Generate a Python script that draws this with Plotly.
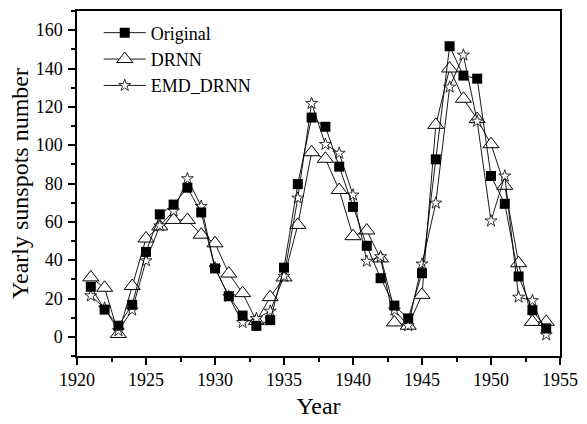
import plotly.graph_objects as go

years = [1921, 1922, 1923, 1924, 1925, 1926, 1927, 1928, 1929, 1930,
         1931, 1932, 1933, 1934, 1935, 1936, 1937, 1938, 1939, 1940,
         1941, 1942, 1943, 1944, 1945, 1946, 1947, 1948, 1949, 1950,
         1951, 1952, 1953, 1954]

original = [26.1, 14.2, 5.8, 16.7, 44.3, 63.9, 69.0, 77.8, 64.9, 35.7,
            21.2, 11.1, 5.7, 8.7, 36.1, 79.7, 114.4, 109.6, 88.8, 67.8,
            47.5, 30.6, 16.3, 9.6, 33.2, 92.6, 151.6, 136.3, 134.7, 83.9,
            69.4, 31.5, 13.9, 4.4]

drnn = [31, 25.6, 1.5, 26.5, 51.3, 57.6, 61, 61, 53.3, 48.8,
        33, 22.8, 8.3, 20.7, 31, 58.4, 96.3, 92.9, 76.6, 52.5,
        55.5, 40.9, 7.5, 5.8, 21.9, 110.6, 140, 124.2, 113.6, 100.5,
        78.8, 38.4, 7.8, 7.8]

emd_drnn = [21.4, 15, 3.2, 14, 39.7, 57.9, 65.7, 82.5, 68.1, 36,
            21, 7.5, 9.5, 13.4, 31.6, 72.4, 121.8, 100.4, 95.8, 74,
            39.4, 41.8, 14, 5.8, 38, 69.8, 130.3, 147, 112.5, 60.5,
            83.9, 20.7, 18.9, 1]

FONT = "Liberation Serif"

fig = go.Figure()
fig.add_trace(go.Scatter(
    x=years, y=drnn, name="DRNN", mode="lines+markers", legendrank=2,
    line=dict(color="black", width=0.9),
    marker=dict(symbol="triangle-up", size=14, color="white",
                line=dict(color="black", width=1))))
fig.add_trace(go.Scatter(
    x=years, y=emd_drnn, name="EMD_DRNN", mode="lines+markers", legendrank=3,
    line=dict(color="black", width=0.9),
    marker=dict(symbol="star", size=9, color="white",
                line=dict(color="black", width=0.8))))
fig.add_trace(go.Scatter(
    x=years, y=original, name="Original", mode="lines+markers", legendrank=1,
    line=dict(color="black", width=0.9),
    marker=dict(symbol="square", size=10, color="black",
                line=dict(color="black", width=0))))

axis_common = dict(
    showgrid=False, zeroline=False, showline=True, linecolor="black",
    linewidth=1.5, mirror=True, ticks="outside", ticklen=7, tickwidth=1.5,
    tickcolor="black", tickfont=dict(family=FONT, size=18, color="black"),
)

fig.update_xaxes(
    range=[1920, 1955], tick0=1920, dtick=5,
    minor=dict(dtick=2.5, ticklen=4, tickwidth=1.5, tickcolor="black", ticks="outside"),
    title=dict(text="Year", font=dict(family=FONT, size=24, color="black"), standoff=8),
    **axis_common)
fig.update_yaxes(
    range=[-10, 170], tick0=0, dtick=20,
    minor=dict(dtick=10, ticklen=4, tickwidth=1.5, tickcolor="black", ticks="outside"),
    title=dict(text="Yearly sunspots number", font=dict(family=FONT, size=24, color="black"), standoff=0),
    ticklabelstandoff=2,
    **axis_common)

fig.update_layout(
    width=587, height=424,
    margin=dict(l=77, r=20, t=9, b=61),
    paper_bgcolor="white", plot_bgcolor="white",
    font=dict(family=FONT, color="black"),
    legend=dict(x=0.045, y=0.99, xanchor="left", yanchor="top",
                bgcolor="rgba(0,0,0,0)", borderwidth=0,
                font=dict(family=FONT, size=18, color="black"),
                itemwidth=42, tracegroupgap=0, traceorder="normal"),
    showlegend=True,
)

fig.write_html("out.html")
